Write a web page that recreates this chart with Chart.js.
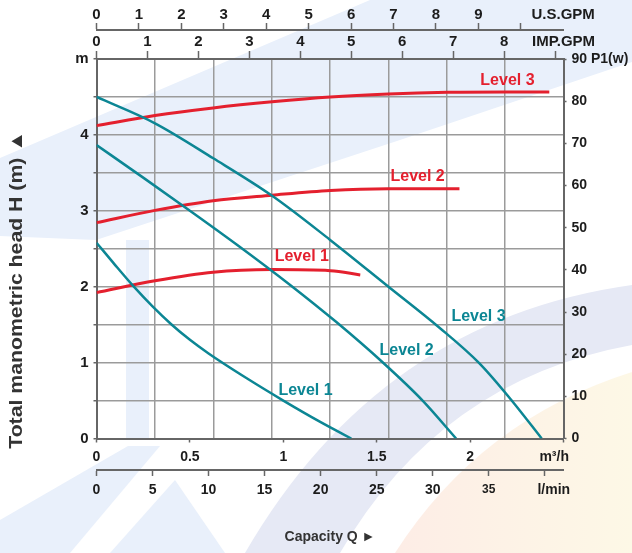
<!DOCTYPE html>
<html>
<head>
<meta charset="utf-8">
<script src="https://cdn.jsdelivr.net/npm/chart.js@4.4.1/dist/chart.umd.min.js"></script>
<style>
  html, body { margin: 0; padding: 0; background: #fff; }
  #wrap { width: 632px; height: 553px; position: relative; }
</style>
</head>
<body>
<div id="wrap"><canvas id="pumpChart"></canvas></div>
<script>
'use strict';

// head curves: H (m) against capacity Q (m3/h)
var headL1Q = [0, 0.1, 0.2, 0.3, 0.4, 0.5, 0.6, 0.8, 1.0, 1.2, 1.364];
var headL1H = [2.58, 2.285, 2.0, 1.74, 1.505, 1.30, 1.12, 0.80, 0.50, 0.216, 0];
var headL2Q = [0, 0.25, 0.5, 0.75, 1.035, 1.284, 1.533, 1.747, 1.925];
var headL2H = [3.867, 3.437, 3.002, 2.557, 2.027, 1.534, 1.001, 0.496, 0];
var headL3Q = [0, 0.313, 0.625, 0.942, 1.249, 1.563, 1.836, 2.05, 2.228, 2.383];
var headL3H = [4.5, 4.153, 3.692, 3.195, 2.62, 2.0, 1.46, 0.99, 0.485, 0];

// power curves: P1 (w) against capacity Q (m3/h)
var powerL1Q = [0, 0.313, 0.624, 0.94, 1.252, 1.412];
var powerL1W = [34.6, 37.4, 39.45, 40.05, 39.8, 38.8];
var powerL2Q = [0, 0.313, 0.624, 0.94, 1.252, 1.563, 1.943];
var powerL2W = [51.2, 54.1, 56.4, 57.7, 58.8, 59.2, 59.2];
var powerL3Q = [0, 0.313, 0.624, 0.94, 1.252, 1.563, 1.88, 2.19, 2.424];
var powerL3W = [74.2, 76.6, 78.4, 79.85, 81.0, 81.7, 82.1, 82.2, 82.2];

// curve names and where they are written (data units)
var levelNames = ['Level 1', 'Level 2', 'Level 3'];
var headLabelQ = [1.119, 1.66, 2.045];
var headLabelH = [0.63, 1.157, 1.60];
var powerLabelQ = [1.099, 1.719, 2.2];
var powerLabelW = [43.1, 62.0, 84.8];

// axis ticks and labels
var m3hTicks = [0, 0.5, 1, 1.5, 2, 2.45, 2.5];
var m3hLabels = ['0', '0.5', '1', '1.5', '2', 'm³/h', ''];
var lminTicks = [0, 5, 10, 15, 20, 25, 30, 35, 40, 40.8];
var lminLabels = ['0', '5', '10', '15', '20', '25', '30', '35', '', 'l/min'];
var usTicks = [0, 1, 2, 3, 4, 5, 6, 7, 8, 9, 10, 11];
var usLabels = ['0', '1', '2', '3', '4', '5', '6', '7', '8', '9', '', 'U.S.GPM'];
var impTicks = [0, 1, 2, 3, 4, 5, 6, 7, 8, 9, 9.166];
var impLabels = ['0', '1', '2', '3', '4', '5', '6', '7', '8', '', 'IMP.GPM'];
var headTicks = [0, 0.5, 1, 1.5, 2, 2.5, 3, 3.5, 4, 4.5, 5];
var headLabels = ['0', '', '1', '', '2', '', '3', '', '4', '', 'm'];
var powerTicks = [0, 10, 20, 30, 40, 50, 60, 70, 80, 90];
var powerLabels = ['0', '10', '20', '30', '40', '50', '60', '70', '80', '90 P1(w)'];
var gridCols = [0, 1, 2, 3, 4, 5, 6, 7, 8];
var headTitle = 'Total manometric head H (m) ▲';

// unit conversions from m3/h
var qMax = 2.5;
var lminMax = qMax * 1000 / 60;
var usMax = qMax * 4.40287;
var impMax = qMax * 3.66615;

var RED = '#e4202e';
var TEAL = '#0c8694';
var AXIS = '#666666';
var GRID = '#9b9b9b';
var TEXT = '#1c1c1c';
var FONT = '"Liberation Sans", Arial, sans-serif';
var CLEAR = 'rgba(0,0,0,0)';

function points(xs, ys) {
  var out = [];
  for (var i = 0; i < xs.length; i++) {
    out.push({ x: xs[i], y: ys[i] });
  }
  return out;
}

function useTicks(values) {
  return function(axis) {
    axis.ticks = values.map(function(v) { return { value: v }; });
  };
}

function tickLabels(labels) {
  return function(value, index) { return labels[index]; };
}

// tick marks are hidden under the unit labels
function markColor(labels) {
  return function(ctx) {
    var t = labels[ctx.index];
    return t && isNaN(parseFloat(t)) ? CLEAR : AXIS;
  };
}

function curve(label, xs, ys, color, yAxis, width) {
  return {
    label: label,
    data: points(xs, ys),
    xAxisID: 'x',
    yAxisID: yAxis,
    borderColor: color,
    borderWidth: width,
    pointRadius: 0,
    fill: false,
    cubicInterpolationMode: 'monotone'
  };
}

// pale logo shapes behind the chart
var watermark = {
  id: 'watermark',
  beforeDraw: function(chart) {
    var c = chart.ctx;
    c.save();
    c.fillStyle = '#ffffff';
    c.fillRect(0, 0, chart.width, chart.height);

    c.fillStyle = '#e9f0fb';
    c.beginPath();
    c.moveTo(0, 158); c.lineTo(370, 0); c.lineTo(632, 0); c.lineTo(632, 62);
    c.lineTo(400, 140); c.lineTo(96, 240); c.lineTo(0, 236);
    c.closePath(); c.fill();
    c.fillRect(126, 240, 23, 198);

    c.beginPath();
    c.moveTo(0, 553); c.lineTo(0, 520); c.lineTo(128, 446); c.lineTo(160, 446);
    c.lineTo(70, 553);
    c.closePath(); c.fill();
    c.beginPath();
    c.moveTo(110, 553); c.lineTo(175, 480); c.lineTo(225, 553);
    c.closePath(); c.fill();

    c.fillStyle = '#e6e9f5';
    c.beginPath();
    c.moveTo(245, 553);
    c.quadraticCurveTo(380, 320, 632, 285);
    c.lineTo(632, 345);
    c.quadraticCurveTo(440, 380, 340, 553);
    c.closePath(); c.fill();

    var g = c.createLinearGradient(400, 0, 632, 0);
    g.addColorStop(0, '#fdede6');
    g.addColorStop(1, '#fdf8e6');
    c.fillStyle = g;
    c.beginPath();
    c.moveTo(395, 553);
    c.quadraticCurveTo(480, 420, 632, 372);
    c.lineTo(632, 553);
    c.closePath(); c.fill();
    c.restore();
  }
};

// writes "Level n" next to each curve, placed through the scales
var levelText = {
  id: 'levelText',
  afterDatasetsDraw: function(chart) {
    var c = chart.ctx;
    var sx = chart.scales.x;
    var sh = chart.scales.y;
    var sp = chart.scales.y2;
    c.save();
    c.font = 'bold 16px ' + FONT;
    c.textAlign = 'center';
    c.textBaseline = 'middle';
    for (var i = 0; i < levelNames.length; i++) {
      c.fillStyle = TEAL;
      c.fillText(levelNames[i], sx.getPixelForValue(headLabelQ[i]), sh.getPixelForValue(headLabelH[i]));
      c.fillStyle = RED;
      c.fillText(levelNames[i], sx.getPixelForValue(powerLabelQ[i]), sp.getPixelForValue(powerLabelW[i]));
    }
    c.restore();
  }
};

// the head axis title is set a bit wider than the font, as in the source sheet
var headTitlePlugin = {
  id: 'headTitle',
  afterDraw: function(chart) {
    var c = chart.ctx;
    var sh = chart.scales.y;
    c.save();
    c.translate(sh.left + 17, (sh.top + sh.bottom) / 2 + 41);
    c.rotate(-Math.PI / 2);
    c.scale(1.18, 1);
    c.font = 'bold 18px ' + FONT;
    c.fillStyle = '#333333';
    c.textAlign = 'center';
    c.textBaseline = 'middle';
    c.fillText(headTitle, 0, 0);
    c.restore();
  }
};

var tickFont = function(size) {
  return { family: FONT, size: size, weight: 'bold' };
};

new Chart(document.getElementById('pumpChart'), {
  type: 'line',
  data: {
    datasets: [
      curve('Head level 1', headL1Q, headL1H, TEAL, 'y', 2.5),
      curve('Head level 2', headL2Q, headL2H, TEAL, 'y', 2.5),
      curve('Head level 3', headL3Q, headL3H, TEAL, 'y', 2.5),
      curve('Power level 1', powerL1Q, powerL1W, RED, 'y2', 3),
      curve('Power level 2', powerL2Q, powerL2W, RED, 'y2', 3),
      curve('Power level 3', powerL3Q, powerL3W, RED, 'y2', 3)
    ]
  },
  options: {
    responsive: true,
    maintainAspectRatio: false,
    animation: false,
    layout: { padding: 0 },
    plugins: {
      legend: { display: false },
      tooltip: { enabled: false }
    },
    scales: {
      x: {
        type: 'linear',
        position: 'bottom',
        weight: 0,
        min: 0,
        max: qMax,
        afterBuildTicks: useTicks(m3hTicks),
        afterFit: function(axis) { axis.height = 31.5; },
        ticks: { callback: tickLabels(m3hLabels), autoSkip: false, maxRotation: 0, color: TEXT, font: tickFont(14), padding: 6 },
        grid: { drawOnChartArea: false, tickLength: 4, tickColor: markColor(m3hLabels), tickWidth: 1.5 },
        border: { color: AXIS, width: 2 }
      },
      grid8: {
        type: 'linear',
        position: 'bottom',
        weight: -1,
        min: 0,
        max: 8,
        afterBuildTicks: useTicks(gridCols),
        afterFit: function(axis) { axis.height = 0; },
        ticks: { display: false },
        grid: { color: GRID, lineWidth: 1.5, drawTicks: false },
        border: { display: false }
      },
      lmin: {
        type: 'linear',
        position: 'bottom',
        weight: 1,
        min: 0,
        max: lminMax,
        afterBuildTicks: useTicks(lminTicks),
        afterFit: function(axis) { axis.height = 83; },
        ticks: {
          callback: tickLabels(lminLabels), autoSkip: false, maxRotation: 0, color: TEXT, padding: 6,
          font: function(ctx) { return tickFont(ctx.index === 7 ? 12 : 14); }
        },
        grid: { drawOnChartArea: false, tickLength: 6, tickColor: markColor(lminLabels), tickWidth: 1.5 },
        border: { color: AXIS, width: 2 },
        title: {
          display: true,
          text: 'Capacity Q ►',
          color: '#333333',
          font: tickFont(14),
          padding: { top: 0, bottom: 7 }
        }
      },
      imp: {
        type: 'linear',
        position: 'top',
        weight: 0,
        min: 0,
        max: impMax,
        afterBuildTicks: useTicks(impTicks),
        afterFit: function(axis) { axis.height = 29; },
        ticks: { callback: tickLabels(impLabels), autoSkip: false, maxRotation: 0, color: TEXT, font: tickFont(15), padding: 0 },
        grid: { drawOnChartArea: false, tickLength: 8, tickColor: markColor(impLabels), tickWidth: 1.5 },
        border: { color: AXIS, width: 2 }
      },
      us: {
        type: 'linear',
        position: 'top',
        weight: 1,
        min: 0,
        max: usMax,
        afterBuildTicks: useTicks(usTicks),
        afterFit: function(axis) { axis.height = 30; },
        ticks: { callback: tickLabels(usLabels), autoSkip: false, maxRotation: 0, color: TEXT, font: tickFont(15), padding: -1 },
        grid: { drawOnChartArea: false, tickLength: 7, tickColor: markColor(usLabels), tickWidth: 1.5 },
        border: { color: AXIS, width: 2 }
      },
      y: {
        type: 'linear',
        position: 'left',
        min: 0,
        max: 5,
        afterBuildTicks: useTicks(headTicks),
        afterFit: function(axis) { axis.width = 96.5; },
        ticks: { callback: tickLabels(headLabels), autoSkip: false, color: TEXT, font: tickFont(15), padding: 5 },
        grid: { color: GRID, lineWidth: 1.5, tickLength: 3, tickColor: AXIS, tickWidth: 1.5 },
        border: { color: AXIS, width: 2 }
      },
      y2: {
        type: 'linear',
        position: 'right',
        min: 0,
        max: 90,
        afterBuildTicks: useTicks(powerTicks),
        afterFit: function(axis) { axis.width = 68.5; },
        ticks: { callback: tickLabels(powerLabels), autoSkip: false, color: TEXT, font: tickFont(14), padding: 5 },
        grid: { drawOnChartArea: false, tickLength: 3, tickColor: AXIS, tickWidth: 1.5 },
        border: { color: AXIS, width: 2 }
      }
    }
  },
  plugins: [watermark, levelText, headTitlePlugin]
});
</script>
</body>
</html>
